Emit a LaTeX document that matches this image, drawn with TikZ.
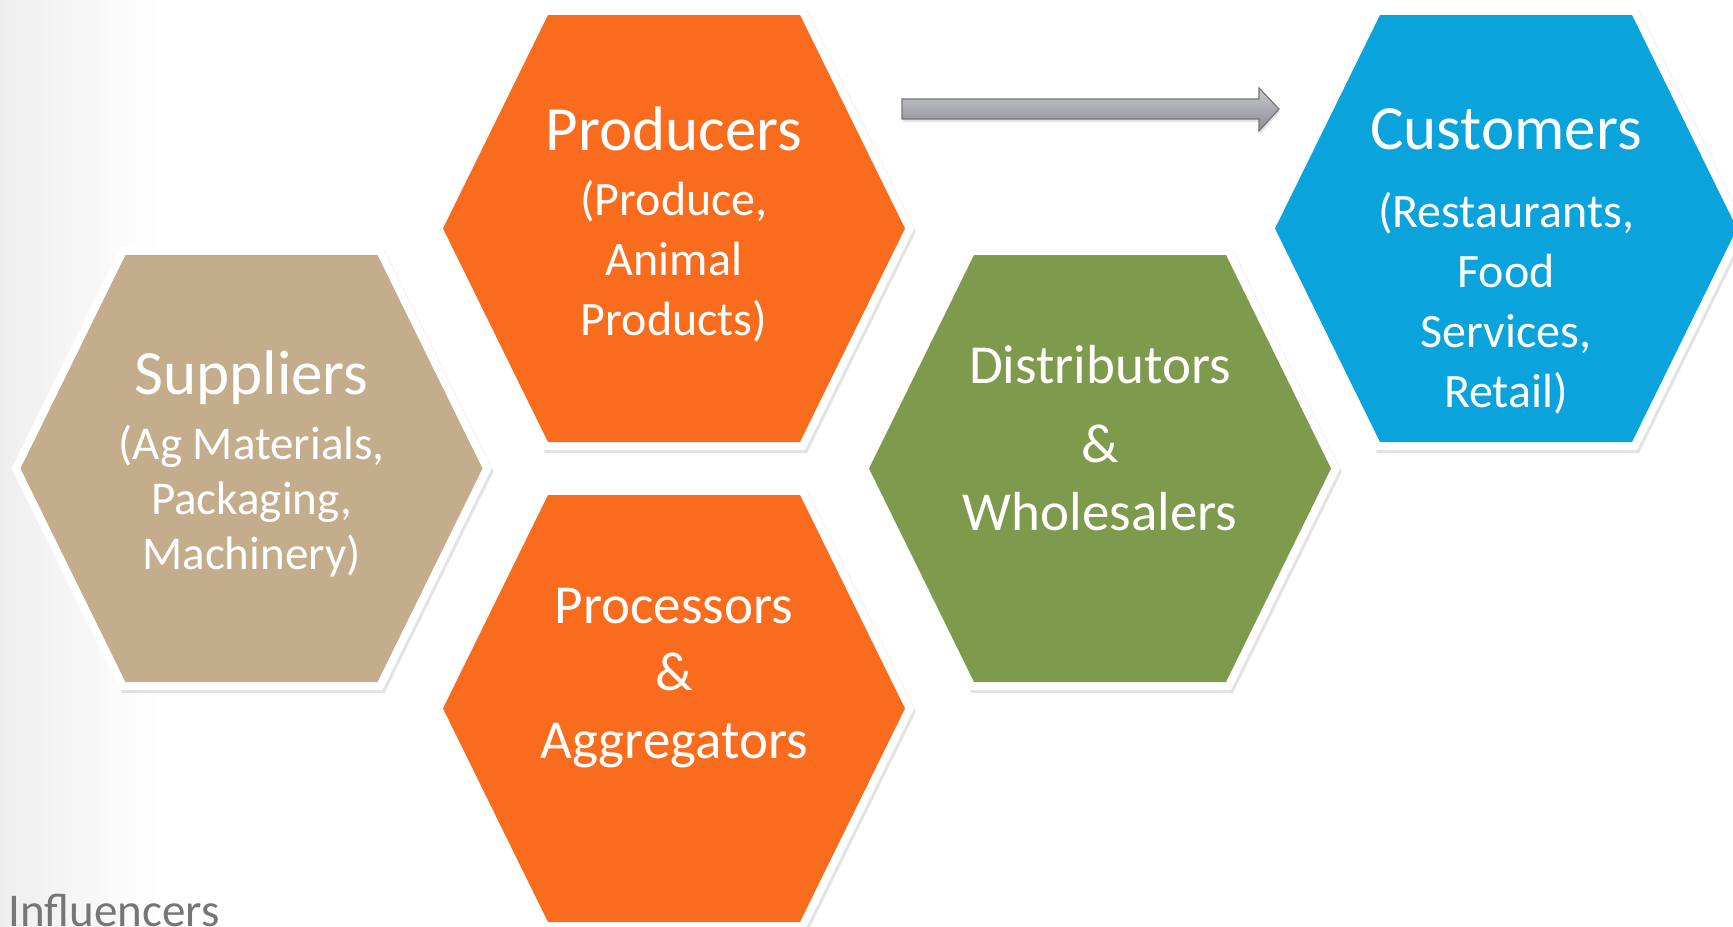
\documentclass[tikz,border=0pt]{standalone}
\usepackage{fontspec}
\setmainfont{Carlito}
\usetikzlibrary{shadows}
\definecolor{supplytan}{RGB}{196,173,140}
\definecolor{produceorange}{RGB}{249,108,30}
\definecolor{distgreen}{RGB}{126,154,76}
\definecolor{custblue}{RGB}{11,163,219}
\definecolor{arrowlight}{RGB}{200,201,205}
\definecolor{arrowdark}{RGB}{138,140,146}
\definecolor{arrowedge}{RGB}{118,118,120}
\definecolor{notegray}{RGB}{118,118,118}
\definecolor{bgleft}{RGB}{238,238,238}

\tikzset{
  hexshadow/.style={drop shadow={shadow xshift=1pt, shadow yshift=-1.5pt, opacity=0.22}},
  hextext/.style={text=white, align=center, inner sep=0pt},
}

\begin{document}
\begin{tikzpicture}[x=0.5pt, y=-0.5pt]
\useasboundingbox (0,0) rectangle (1733,926);
\clip (0,0) rectangle (1733,926);
% Background
\fill[white] (0,0) rectangle (1733,926);
\shade[left color=bgleft, right color=white] (0,0) rectangle (160,926);

% Hexagon cells
\foreach \cx/\cy/\col in {251.5/468.5/supplytan, 674/228.5/produceorange, 674/708.5/produceorange, 1100/468.5/distgreen, 1506/228.5/custblue}{
  \begin{scope}[shift={(\cx,\cy)}]
    \fill[white, hexshadow] (-240,0) -- (-131,-221.5) -- (131,-221.5) -- (240,0) -- (131,221.5) -- (-131,221.5) -- cycle;
    \fill[\col] (-231,0) -- (-126,-213.5) -- (126,-213.5) -- (231,0) -- (126,213.5) -- (-126,213.5) -- cycle;
  \end{scope}
}

% Flow arrow
\draw[arrowedge, top color=arrowlight, bottom color=arrowdark, line width=0.6pt, drop shadow={shadow xshift=0.5pt, shadow yshift=-1.5pt, opacity=0.2}]
  (902,99) -- (1259,99) -- (1259,88) -- (1279,109) -- (1259,131) -- (1259,119) -- (902,119) -- cycle;

% Cell labels
\node[hextext, font=\fontsize{23.5}{27.5}\selectfont] (suppliers) at (251.5,464) {{\fontsize{31.5}{36}\selectfont Suppliers}\\[5pt] (Ag Materials,\\ Packaging,\\ Machinery)};
\node[hextext, font=\fontsize{24}{30}\selectfont] (producers) at (674,224.5) {{\fontsize{31.5}{36}\selectfont Producers}\\[2.5pt] (Produce,\\ Animal\\ Products)};
\node[hextext, font=\fontsize{27.5}{33.75}\selectfont] (processors) at (674,678) {Processors\\ \&\\ Aggregators};
\node[hextext, font=\fontsize{27.5}{34}\selectfont] (distributors) at (1100,438) {Distributors\\[5.5pt] \&\\ Wholesalers};
\node[hextext, font=\fontsize{24}{30}\selectfont] (customers) at (1506,261) {{\fontsize{31.5}{36}\selectfont Customers}\\[9pt] (Restaurants,\\ Food\\ Services,\\ Retail)};

% Footer
\node[anchor=base west, inner sep=0pt, text=notegray, font=\fontsize{23.5}{28}\selectfont] (influencers) at (8,926) {Influencers};
\end{tikzpicture}
\end{document}
